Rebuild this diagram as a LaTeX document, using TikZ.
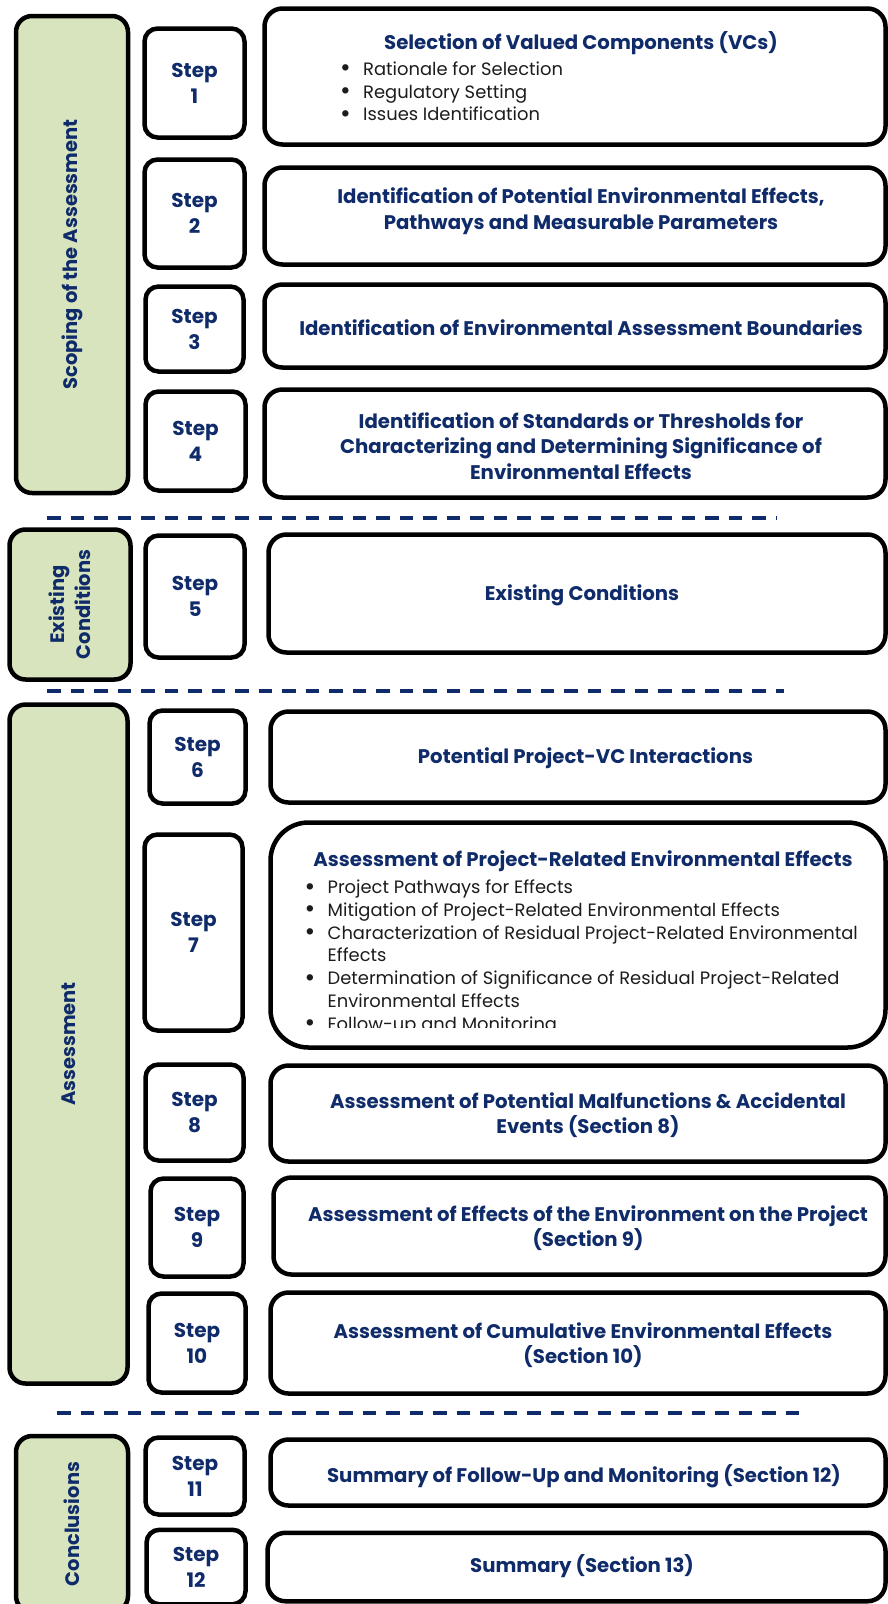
\documentclass[tikz,border=0pt]{standalone}
\usepackage{graphicx}
\usepackage{fontspec}
\setmainfont{Poppins}
\usetikzlibrary{positioning}
\definecolor{Navy}{HTML}{0F2B69}
\definecolor{Sage}{HTML}{D7E4BD}
\definecolor{Ink}{HTML}{1C1C1C}
\newcommand\bl{\makebox[23pt][l]{\raisebox{-1.6pt}{\scalebox{1.45}{\textbullet}}}}
\newcommand\hang{\hspace*{23pt}}

\begin{document}
\begin{tikzpicture}[x=1pt,y=-1pt,
    grp/.style={draw=black,line width=4.5pt,rounded corners=16pt,fill=Sage,text=Navy,
                font=\bfseries\fontsize{19.5}{26}\selectfont,align=center,inner sep=0pt,rotate=90},
    stp/.style={draw=black,line width=4.5pt,rounded corners=13pt,fill=white,text=Navy,
                font=\bfseries\fontsize{20}{26}\selectfont,align=center,inner sep=0pt},
    pan/.style={draw=black,line width=4.5pt,rounded corners=18pt,fill=white,inner sep=0pt},
    ttl/.style={text=Navy,font=\bfseries\fontsize{19.7}{25.6}\selectfont,align=center,inner sep=0pt},
    lst/.style={text=Ink,font=\fontsize{17.9}{22.8}\selectfont,align=left,inner sep=0pt,anchor=west},
    sep/.style={Navy,line width=3.3pt,dash pattern=on 13.5pt off 10pt}
  ]
    \useasboundingbox (0,0) rectangle (888,1604);
    % phases
    \node[grp,minimum width=477pt,minimum height=112pt] (g1) at (72,254.5) {Scoping of the Assessment};
    \node[grp,minimum width=150pt,minimum height=121pt] (g2) at (70,604.5) {Existing\\Conditions};
    \node[grp,minimum width=679pt,minimum height=118pt] (g3) at (68.5,1044) {Assessment};
    \node[grp,minimum width=176pt,minimum height=112pt] (g4) at (72,1524) {Conclusions};
    % steps
    \node[stp,minimum width=100pt,minimum height=109pt] (s1) at (194.5,83) {Step\\1};
    \node[stp,minimum width=100pt,minimum height=108pt] (s2) at (194.5,213.5) {Step\\2};
    \node[stp,minimum width=98pt,minimum height=85pt] (s3) at (194.5,329) {Step\\3};
    \node[stp,minimum width=100pt,minimum height=99pt] (s4) at (195.5,441) {Step\\4};
    \node[stp,minimum width=99pt,minimum height=122pt] (s5) at (195,596.5) {Step\\5};
    \node[stp,minimum width=96pt,minimum height=93pt] (s6) at (197.5,757) {Step\\6};
    \node[stp,minimum width=98pt,minimum height=196pt] (s7) at (193.5,932.5) {Step\\7};
    \node[stp,minimum width=98pt,minimum height=96pt] (s8) at (194.5,1112.5) {Step\\8};
    \node[stp,minimum width=93pt,minimum height=98pt] (s9) at (197,1227.5) {Step\\9};
    \node[stp,minimum width=97pt,minimum height=99pt] (s10) at (197,1343) {Step\\10};
    \node[stp,minimum width=99pt,minimum height=77pt] (s11) at (195,1476) {Step\\11};
    \node[stp,minimum width=99pt,minimum height=74.5pt] (s12) at (196,1567) {Step\\12};
    % panels
    \node[pan,minimum width=621pt,minimum height=136pt] (p1) at (575,76.5) {};
    \node[pan,minimum width=621pt,minimum height=97pt] (p2) at (575,216) {};
    \node[pan,minimum width=621pt,minimum height=83pt] (p3) at (575,326) {};
    \node[pan,minimum width=621pt,minimum height=108pt] (p4) at (575,443.5) {};
    \node[pan,minimum width=617pt,minimum height=118pt] (p5) at (577,593.5) {};
    \node[pan,minimum width=615pt,minimum height=91pt] (p6) at (578,757) {};
    \node[pan,minimum width=615pt,minimum height=225pt,rounded corners=38pt] (p7) at (578,935) {};
    \node[pan,minimum width=615pt,minimum height=96pt] (p8) at (578,1113.5) {};
    \node[pan,minimum width=612pt,minimum height=97pt] (p9) at (579.5,1226) {};
    \node[pan,minimum width=615pt,minimum height=101pt] (p10) at (578,1343) {};
    \node[pan,minimum width=615pt,minimum height=66pt] (p11) at (578,1472.5) {};
    \node[pan,minimum width=618pt,minimum height=68.5pt] (p12) at (576.5,1567) {};
    % panel texts
    \node[ttl] (t1) at (581,43) {Selection of Valued Components (VCs)};
    \node[lst] (l1) at (340,92) {\bl Rationale for Selection\\\bl Regulatory Setting\\\bl Issues Identification};
    \node[ttl] (t2) at (581,211) {Identification of Potential Environmental Effects,\\Pathways and Measurable Parameters};
    \node[ttl] (t3) at (581,328) {Identification of Environmental Assessment Boundaries};
    \node[ttl] (t4) at (581,446) {Identification of Standards or Thresholds for\\Characterizing and Determining Significance of\\Environmental Effects};
    \node[ttl] (t5) at (582,595.5) {Existing Conditions};
    \node[ttl] (t6) at (585.5,758) {Potential Project-VC Interactions};
    \node[ttl] (t7) at (583,861.5) {Assessment of Project-Related Environmental Effects};
    \begin{scope}
      \clip (280,872) rectangle (880,1027);
      \node[lst] (l7) at (304.5,957.5) {\bl Project Pathways for Effects\\
        \bl Mitigation of Project-Related Environmental Effects\\
        \bl Characterization of Residual Project-Related Environmental\\\hang Effects\\
        \bl Determination of Significance of Residual Project-Related\\\hang Environmental Effects\\
        \bl Follow-up and Monitoring};
    \end{scope}
    \node[ttl] (t8) at (588,1115) {Assessment of Potential Malfunctions \& Accidental\\Events (Section 8)};
    \node[ttl] (t9) at (588,1228) {Assessment of Effects of the Environment on the Project\\(Section 9)};
    \node[ttl] (t10) at (583,1345) {Assessment of Cumulative Environmental Effects\\(Section 10)};
    \node[ttl] (t11) at (584,1476) {Summary of Follow-Up and Monitoring (Section 12)};
    \node[ttl] (t12) at (582,1566) {Summary (Section 13)};
    % phase separators
    \draw[sep] (47,518) -- (776,518);
    \draw[sep] (47,691) -- (784,691);
    \draw[sep] (57,1413) -- (808,1413);
  \end{tikzpicture}
\end{document}
